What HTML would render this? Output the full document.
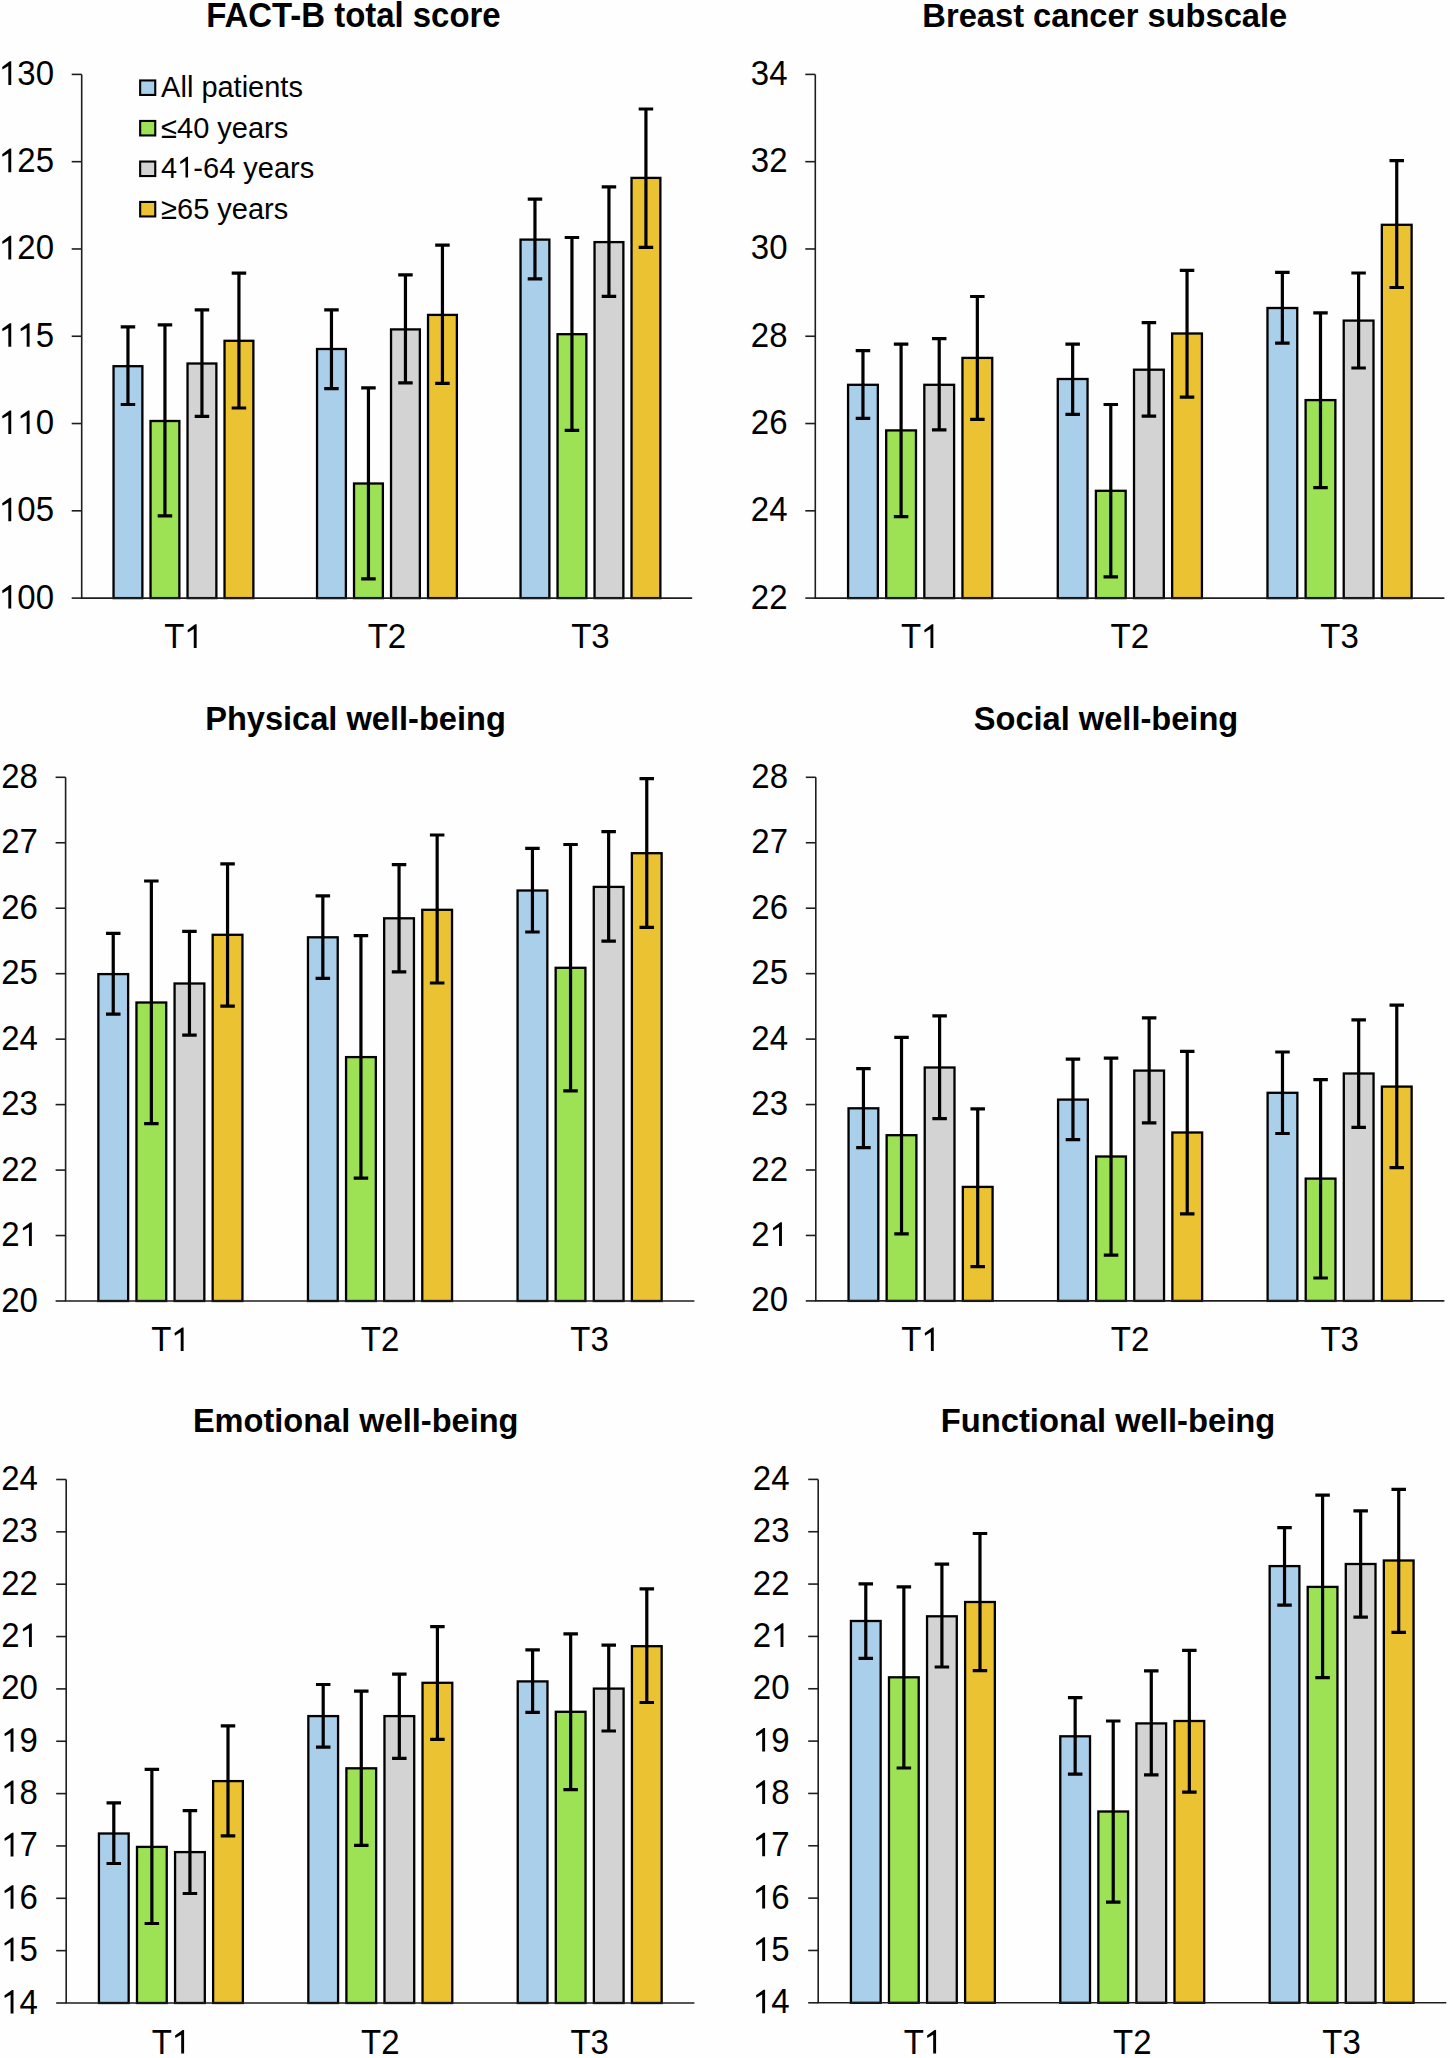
<!DOCTYPE html>
<html><head><meta charset="utf-8"><style>
html,body{margin:0;padding:0;background:#fefefe;}
body{width:1450px;height:2058px;overflow:hidden;}
svg{display:block;}
text{font-family:"Liberation Sans",sans-serif;fill:#000;}
.n{font-size:33px;}
.t{font-size:32.8px;font-weight:bold;}
.l{font-size:29px;}
line{stroke:#1e1e1e;stroke-width:1.6;}
.a{fill:none;stroke:#1e1e1e;stroke-width:1.6;}
.b{stroke:#000;stroke-width:2.3;}
.e{fill:none;stroke:#000;stroke-width:3.2;}
</style></head><body>
<svg width="1450" height="2058" viewBox="0 0 1450 2058">
<rect width="1450" height="2058" fill="#fefefe"/>
<text class="t" style="font-size:32.93px" transform="translate(353.4 27) scale(1 1.04)" text-anchor="middle">FACT-B total score</text>
<line x1="71.7" y1="598.1" x2="81.7" y2="598.1"/>
<text class="n" transform="translate(-1.06 608.6) scale(1 1.04)"> 00</text><path d="M11.24 608.6 11.24 584.98 9.77 584.98 2.16 590.6 2.52 593.13 8.33 589.75 8.33 608.6Z"/>
<line x1="71.7" y1="510.82" x2="81.7" y2="510.82"/>
<text class="n" transform="translate(-1.06 521.32) scale(1 1.04)"> 05</text><path d="M11.24 521.32 11.24 497.69 9.77 497.69 2.16 503.32 2.52 505.85 8.33 502.46 8.33 521.32Z"/>
<line x1="71.7" y1="423.53" x2="81.7" y2="423.53"/>
<text class="n" transform="translate(-1.06 434.03) scale(1 1.04)">  0</text><path d="M11.24 434.03 11.24 410.41 9.77 410.41 2.16 416.03 2.52 418.56 8.33 415.18 8.33 434.03Z"/><path d="M29.59 434.03 29.59 410.41 28.12 410.41 20.52 416.03 20.87 418.56 26.69 415.18 26.69 434.03Z"/>
<line x1="71.7" y1="336.25" x2="81.7" y2="336.25"/>
<text class="n" transform="translate(-1.06 346.75) scale(1 1.04)">  5</text><path d="M11.24 346.75 11.24 323.13 9.77 323.13 2.16 328.75 2.52 331.28 8.33 327.9 8.33 346.75Z"/><path d="M29.59 346.75 29.59 323.13 28.12 323.13 20.52 328.75 20.87 331.28 26.69 327.9 26.69 346.75Z"/>
<line x1="71.7" y1="248.97" x2="81.7" y2="248.97"/>
<text class="n" transform="translate(-1.06 259.47) scale(1 1.04)"> 20</text><path d="M11.24 259.47 11.24 235.84 9.77 235.84 2.16 241.47 2.52 244 8.33 240.61 8.33 259.47Z"/>
<line x1="71.7" y1="161.68" x2="81.7" y2="161.68"/>
<text class="n" transform="translate(-1.06 172.18) scale(1 1.04)"> 25</text><path d="M11.24 172.18 11.24 148.56 9.77 148.56 2.16 154.18 2.52 156.71 8.33 153.33 8.33 172.18Z"/>
<line x1="71.7" y1="74.4" x2="81.7" y2="74.4"/>
<text class="n" transform="translate(-1.06 84.9) scale(1 1.04)"> 30</text><path d="M11.24 84.9 11.24 61.28 9.77 61.28 2.16 66.9 2.52 69.43 8.33 66.05 8.33 84.9Z"/>
<rect x="113.54" y="366.2" width="28.84" height="231.9" fill="#AACFEB" class="b"/>
<rect x="150.53" y="421" width="28.84" height="177.1" fill="#9CE254" class="b"/>
<rect x="187.53" y="363.5" width="28.84" height="234.6" fill="#D3D3D3" class="b"/>
<rect x="224.53" y="340.8" width="28.84" height="257.3" fill="#EBC232" class="b"/>
<path class="e" d="M127.96 326.9V404.5M120.71 326.9H135.21M120.71 404.5H135.21"/>
<path class="e" d="M164.95 324.8V515.8M157.7 324.8H172.2M157.7 515.8H172.2"/>
<path class="e" d="M201.95 309.9V416.3M194.7 309.9H209.2M194.7 416.3H209.2"/>
<path class="e" d="M238.94 273.1V408M231.69 273.1H246.19M231.69 408H246.19"/>
<text class="n" transform="translate(164.19 647.9) scale(1 1.04)">T </text><path d="M196.65 647.9 196.65 624.28 195.18 624.28 187.57 629.9 187.93 632.43 193.75 629.05 193.75 647.9Z"/>
<rect x="317.04" y="349" width="28.84" height="249.1" fill="#AACFEB" class="b"/>
<rect x="354.03" y="483.5" width="28.84" height="114.6" fill="#9CE254" class="b"/>
<rect x="391.03" y="329.4" width="28.84" height="268.7" fill="#D3D3D3" class="b"/>
<rect x="428.03" y="314.9" width="28.84" height="283.2" fill="#EBC232" class="b"/>
<path class="e" d="M331.46 309.9V388.6M324.21 309.9H338.71M324.21 388.6H338.71"/>
<path class="e" d="M368.45 387.9V578.9M361.2 387.9H375.7M361.2 578.9H375.7"/>
<path class="e" d="M405.45 274.8V382.8M398.2 274.8H412.7M398.2 382.8H412.7"/>
<path class="e" d="M442.44 245.2V383.4M435.19 245.2H449.69M435.19 383.4H449.69"/>
<text class="n" transform="translate(367.69 647.9) scale(1 1.04)">T2</text>
<rect x="520.54" y="239.6" width="28.84" height="358.5" fill="#AACFEB" class="b"/>
<rect x="557.53" y="334.2" width="28.84" height="263.9" fill="#9CE254" class="b"/>
<rect x="594.53" y="242.1" width="28.84" height="356" fill="#D3D3D3" class="b"/>
<rect x="631.53" y="177.9" width="28.84" height="420.2" fill="#EBC232" class="b"/>
<path class="e" d="M534.96 199.2V278.9M527.71 199.2H542.21M527.71 278.9H542.21"/>
<path class="e" d="M571.95 237.5V430.4M564.7 237.5H579.2M564.7 430.4H579.2"/>
<path class="e" d="M608.95 186.8V296.3M601.7 186.8H616.2M601.7 296.3H616.2"/>
<path class="e" d="M645.94 109V247.3M638.69 109H653.19M638.69 247.3H653.19"/>
<text class="n" transform="translate(571.19 647.9) scale(1 1.04)">T3</text>
<path class="a" d="M81.7 74.4V598.1H692.2"/>
<text class="t" style="font-size:32.67px" transform="translate(1104.8 27) scale(1 1.04)" text-anchor="middle">Breast cancer subscale</text>
<line x1="805.3" y1="598.1" x2="815.3" y2="598.1"/>
<text class="n" transform="translate(750.79 608.6) scale(1 1.04)">22</text>
<line x1="805.3" y1="510.82" x2="815.3" y2="510.82"/>
<text class="n" transform="translate(750.79 521.32) scale(1 1.04)">24</text>
<line x1="805.3" y1="423.53" x2="815.3" y2="423.53"/>
<text class="n" transform="translate(750.79 434.03) scale(1 1.04)">26</text>
<line x1="805.3" y1="336.25" x2="815.3" y2="336.25"/>
<text class="n" transform="translate(750.79 346.75) scale(1 1.04)">28</text>
<line x1="805.3" y1="248.97" x2="815.3" y2="248.97"/>
<text class="n" transform="translate(750.79 259.47) scale(1 1.04)">30</text>
<line x1="805.3" y1="161.68" x2="815.3" y2="161.68"/>
<text class="n" transform="translate(750.79 172.18) scale(1 1.04)">32</text>
<line x1="805.3" y1="74.4" x2="815.3" y2="74.4"/>
<text class="n" transform="translate(750.79 84.9) scale(1 1.04)">34</text>
<rect x="848.07" y="384.8" width="29.78" height="213.3" fill="#AACFEB" class="b"/>
<rect x="886.2" y="430.4" width="29.78" height="167.7" fill="#9CE254" class="b"/>
<rect x="924.32" y="384.8" width="29.78" height="213.3" fill="#D3D3D3" class="b"/>
<rect x="962.44" y="357.9" width="29.78" height="240.2" fill="#EBC232" class="b"/>
<path class="e" d="M862.96 350.7V418.4M855.71 350.7H870.21M855.71 418.4H870.21"/>
<path class="e" d="M901.09 344.1V516.6M893.84 344.1H908.34M893.84 516.6H908.34"/>
<path class="e" d="M939.21 338.7V429.9M931.96 338.7H946.46M931.96 429.9H946.46"/>
<path class="e" d="M977.34 296.5V419.4M970.09 296.5H984.59M970.09 419.4H984.59"/>
<text class="n" transform="translate(900.89 647.9) scale(1 1.04)">T </text><path d="M933.35 647.9 933.35 624.28 931.88 624.28 924.27 629.9 924.63 632.43 930.45 629.05 930.45 647.9Z"/>
<rect x="1057.77" y="379" width="29.78" height="219.1" fill="#AACFEB" class="b"/>
<rect x="1095.9" y="490.8" width="29.78" height="107.3" fill="#9CE254" class="b"/>
<rect x="1134.02" y="369.7" width="29.78" height="228.4" fill="#D3D3D3" class="b"/>
<rect x="1172.14" y="333.5" width="29.78" height="264.6" fill="#EBC232" class="b"/>
<path class="e" d="M1072.66 344.1V414.4M1065.41 344.1H1079.91M1065.41 414.4H1079.91"/>
<path class="e" d="M1110.79 404.5V576.8M1103.54 404.5H1118.04M1103.54 576.8H1118.04"/>
<path class="e" d="M1148.91 322.7V416.2M1141.66 322.7H1156.16M1141.66 416.2H1156.16"/>
<path class="e" d="M1187.04 270.4V397.2M1179.79 270.4H1194.29M1179.79 397.2H1194.29"/>
<text class="n" transform="translate(1110.59 647.9) scale(1 1.04)">T2</text>
<rect x="1267.47" y="308" width="29.78" height="290.1" fill="#AACFEB" class="b"/>
<rect x="1305.6" y="400.1" width="29.78" height="198" fill="#9CE254" class="b"/>
<rect x="1343.72" y="320.6" width="29.78" height="277.5" fill="#D3D3D3" class="b"/>
<rect x="1381.84" y="224.8" width="29.78" height="373.3" fill="#EBC232" class="b"/>
<path class="e" d="M1282.36 272.4V343.2M1275.11 272.4H1289.61M1275.11 343.2H1289.61"/>
<path class="e" d="M1320.49 312.8V487.6M1313.24 312.8H1327.74M1313.24 487.6H1327.74"/>
<path class="e" d="M1358.61 273V368M1351.36 273H1365.86M1351.36 368H1365.86"/>
<path class="e" d="M1396.74 160.7V287.5M1389.49 160.7H1403.99M1389.49 287.5H1403.99"/>
<text class="n" transform="translate(1320.29 647.9) scale(1 1.04)">T3</text>
<path class="a" d="M815.3 74.4V598.1H1444.4"/>
<text class="t" style="font-size:32.61px" transform="translate(355.5 729.6) scale(1 1.04)" text-anchor="middle">Physical well-being</text>
<line x1="55.6" y1="1301" x2="65.6" y2="1301"/>
<text class="n" transform="translate(1.19 1311.5) scale(1 1.04)">20</text>
<line x1="55.6" y1="1235.54" x2="65.6" y2="1235.54"/>
<text class="n" transform="translate(1.19 1246.04) scale(1 1.04)">2 </text><path d="M31.84 1246.04 31.84 1222.42 30.38 1222.42 22.77 1228.04 23.12 1230.57 28.94 1227.18 28.94 1246.04Z"/>
<line x1="55.6" y1="1170.08" x2="65.6" y2="1170.08"/>
<text class="n" transform="translate(1.19 1180.58) scale(1 1.04)">22</text>
<line x1="55.6" y1="1104.61" x2="65.6" y2="1104.61"/>
<text class="n" transform="translate(1.19 1115.11) scale(1 1.04)">23</text>
<line x1="55.6" y1="1039.15" x2="65.6" y2="1039.15"/>
<text class="n" transform="translate(1.19 1049.65) scale(1 1.04)">24</text>
<line x1="55.6" y1="973.69" x2="65.6" y2="973.69"/>
<text class="n" transform="translate(1.19 984.19) scale(1 1.04)">25</text>
<line x1="55.6" y1="908.22" x2="65.6" y2="908.22"/>
<text class="n" transform="translate(1.19 918.72) scale(1 1.04)">26</text>
<line x1="55.6" y1="842.76" x2="65.6" y2="842.76"/>
<text class="n" transform="translate(1.19 853.26) scale(1 1.04)">27</text>
<line x1="55.6" y1="777.3" x2="65.6" y2="777.3"/>
<text class="n" transform="translate(1.19 787.8) scale(1 1.04)">28</text>
<rect x="98.36" y="974.1" width="29.77" height="326.9" fill="#AACFEB" class="b"/>
<rect x="136.46" y="1002.5" width="29.77" height="298.5" fill="#9CE254" class="b"/>
<rect x="174.57" y="983.5" width="29.77" height="317.5" fill="#D3D3D3" class="b"/>
<rect x="212.67" y="934.8" width="29.77" height="366.2" fill="#EBC232" class="b"/>
<path class="e" d="M113.24 933.4V1014.1M105.99 933.4H120.49M105.99 1014.1H120.49"/>
<path class="e" d="M151.35 881V1123.7M144.1 881H158.6M144.1 1123.7H158.6"/>
<path class="e" d="M189.45 931.3V1035.2M182.2 931.3H196.7M182.2 1035.2H196.7"/>
<path class="e" d="M227.56 863.9V1006.2M220.31 863.9H234.81M220.31 1006.2H234.81"/>
<text class="n" transform="translate(151.14 1351.1) scale(1 1.04)">T </text><path d="M183.6 1351.1 183.6 1327.48 182.13 1327.48 174.52 1333.1 174.88 1335.63 180.7 1332.25 180.7 1351.1Z"/>
<rect x="307.96" y="937.3" width="29.77" height="363.7" fill="#AACFEB" class="b"/>
<rect x="346.06" y="1057.1" width="29.77" height="243.9" fill="#9CE254" class="b"/>
<rect x="384.17" y="918.3" width="29.77" height="382.7" fill="#D3D3D3" class="b"/>
<rect x="422.27" y="909.8" width="29.77" height="391.2" fill="#EBC232" class="b"/>
<path class="e" d="M322.84 895.9V978.3M315.59 895.9H330.09M315.59 978.3H330.09"/>
<path class="e" d="M360.95 935.6V1178.2M353.7 935.6H368.2M353.7 1178.2H368.2"/>
<path class="e" d="M399.05 864.7V971.9M391.8 864.7H406.3M391.8 971.9H406.3"/>
<path class="e" d="M437.16 835V983M429.91 835H444.41M429.91 983H444.41"/>
<text class="n" transform="translate(360.74 1351.1) scale(1 1.04)">T2</text>
<rect x="517.56" y="890.5" width="29.77" height="410.5" fill="#AACFEB" class="b"/>
<rect x="555.66" y="967.8" width="29.77" height="333.2" fill="#9CE254" class="b"/>
<rect x="593.77" y="886.9" width="29.77" height="414.1" fill="#D3D3D3" class="b"/>
<rect x="631.87" y="853.2" width="29.77" height="447.8" fill="#EBC232" class="b"/>
<path class="e" d="M532.44 848.3V932M525.19 848.3H539.69M525.19 932H539.69"/>
<path class="e" d="M570.55 844.5V1090.9M563.3 844.5H577.8M563.3 1090.9H577.8"/>
<path class="e" d="M608.65 831.7V941.2M601.4 831.7H615.9M601.4 941.2H615.9"/>
<path class="e" d="M646.76 778.6V927.4M639.51 778.6H654.01M639.51 927.4H654.01"/>
<text class="n" transform="translate(570.34 1351.1) scale(1 1.04)">T3</text>
<path class="a" d="M65.6 777.3V1301H694.4"/>
<text class="t" style="font-size:32.63px" transform="translate(1106 729.6) scale(1 1.04)" text-anchor="middle">Social well-being</text>
<line x1="805.8" y1="1300.9" x2="815.8" y2="1300.9"/>
<text class="n" transform="translate(751.29 1311.4) scale(1 1.04)">20</text>
<line x1="805.8" y1="1235.45" x2="815.8" y2="1235.45"/>
<text class="n" transform="translate(751.29 1245.95) scale(1 1.04)">2 </text><path d="M781.94 1245.95 781.94 1222.33 780.48 1222.33 772.87 1227.95 773.22 1230.48 779.04 1227.1 779.04 1245.95Z"/>
<line x1="805.8" y1="1170" x2="815.8" y2="1170"/>
<text class="n" transform="translate(751.29 1180.5) scale(1 1.04)">22</text>
<line x1="805.8" y1="1104.55" x2="815.8" y2="1104.55"/>
<text class="n" transform="translate(751.29 1115.05) scale(1 1.04)">23</text>
<line x1="805.8" y1="1039.1" x2="815.8" y2="1039.1"/>
<text class="n" transform="translate(751.29 1049.6) scale(1 1.04)">24</text>
<line x1="805.8" y1="973.65" x2="815.8" y2="973.65"/>
<text class="n" transform="translate(751.29 984.15) scale(1 1.04)">25</text>
<line x1="805.8" y1="908.2" x2="815.8" y2="908.2"/>
<text class="n" transform="translate(751.29 918.7) scale(1 1.04)">26</text>
<line x1="805.8" y1="842.75" x2="815.8" y2="842.75"/>
<text class="n" transform="translate(751.29 853.25) scale(1 1.04)">27</text>
<line x1="805.8" y1="777.3" x2="815.8" y2="777.3"/>
<text class="n" transform="translate(751.29 787.8) scale(1 1.04)">28</text>
<rect x="848.55" y="1108.3" width="29.76" height="192.6" fill="#AACFEB" class="b"/>
<rect x="886.64" y="1135.2" width="29.76" height="165.7" fill="#9CE254" class="b"/>
<rect x="924.73" y="1067.5" width="29.76" height="233.4" fill="#D3D3D3" class="b"/>
<rect x="962.83" y="1186.9" width="29.76" height="114" fill="#EBC232" class="b"/>
<path class="e" d="M863.43 1068.6V1147.6M856.18 1068.6H870.68M856.18 1147.6H870.68"/>
<path class="e" d="M901.52 1037.3V1233.9M894.27 1037.3H908.77M894.27 1233.9H908.77"/>
<path class="e" d="M939.61 1015.8V1118.6M932.36 1015.8H946.86M932.36 1118.6H946.86"/>
<path class="e" d="M977.71 1108.9V1266.6M970.46 1108.9H984.96M970.46 1266.6H984.96"/>
<text class="n" transform="translate(901.31 1351.1) scale(1 1.04)">T </text><path d="M933.76 1351.1 933.76 1327.48 932.3 1327.48 924.69 1333.1 925.05 1335.63 930.86 1332.25 930.86 1351.1Z"/>
<rect x="1058.08" y="1099.6" width="29.76" height="201.3" fill="#AACFEB" class="b"/>
<rect x="1096.17" y="1156.5" width="29.76" height="144.4" fill="#9CE254" class="b"/>
<rect x="1134.27" y="1070.6" width="29.76" height="230.3" fill="#D3D3D3" class="b"/>
<rect x="1172.36" y="1132.5" width="29.76" height="168.4" fill="#EBC232" class="b"/>
<path class="e" d="M1072.96 1059.2V1139.7M1065.71 1059.2H1080.21M1065.71 1139.7H1080.21"/>
<path class="e" d="M1111.05 1058.2V1255.2M1103.8 1058.2H1118.3M1103.8 1255.2H1118.3"/>
<path class="e" d="M1149.15 1017.9V1122.8M1141.9 1017.9H1156.4M1141.9 1122.8H1156.4"/>
<path class="e" d="M1187.24 1051.4V1213.8M1179.99 1051.4H1194.49M1179.99 1213.8H1194.49"/>
<text class="n" transform="translate(1110.84 1351.1) scale(1 1.04)">T2</text>
<rect x="1267.61" y="1092.8" width="29.76" height="208.1" fill="#AACFEB" class="b"/>
<rect x="1305.71" y="1178.6" width="29.76" height="122.3" fill="#9CE254" class="b"/>
<rect x="1343.8" y="1073.5" width="29.76" height="227.4" fill="#D3D3D3" class="b"/>
<rect x="1381.89" y="1086.6" width="29.76" height="214.3" fill="#EBC232" class="b"/>
<path class="e" d="M1282.49 1052V1133.5M1275.24 1052H1289.74M1275.24 1133.5H1289.74"/>
<path class="e" d="M1320.59 1079.7V1278M1313.34 1079.7H1327.84M1313.34 1278H1327.84"/>
<path class="e" d="M1358.68 1019.9V1127.3M1351.43 1019.9H1365.93M1351.43 1127.3H1365.93"/>
<path class="e" d="M1396.77 1005.2V1167.7M1389.52 1005.2H1404.02M1389.52 1167.7H1404.02"/>
<text class="n" transform="translate(1320.38 1351.1) scale(1 1.04)">T3</text>
<path class="a" d="M815.8 777.3V1300.9H1444.4"/>
<text class="t" style="font-size:32.57px" transform="translate(355.7 1432.4) scale(1 1.04)" text-anchor="middle">Emotional well-being</text>
<line x1="56.2" y1="2003" x2="66.2" y2="2003"/>
<text class="n" transform="translate(1.19 2013.5) scale(1 1.04)"> 4</text><path d="M13.49 2013.5 13.49 1989.88 12.02 1989.88 4.42 1995.5 4.77 1998.03 10.59 1994.65 10.59 2013.5Z"/>
<line x1="56.2" y1="1950.65" x2="66.2" y2="1950.65"/>
<text class="n" transform="translate(1.19 1961.15) scale(1 1.04)"> 5</text><path d="M13.49 1961.15 13.49 1937.53 12.02 1937.53 4.42 1943.15 4.77 1945.68 10.59 1942.3 10.59 1961.15Z"/>
<line x1="56.2" y1="1898.3" x2="66.2" y2="1898.3"/>
<text class="n" transform="translate(1.19 1908.8) scale(1 1.04)"> 6</text><path d="M13.49 1908.8 13.49 1885.18 12.02 1885.18 4.42 1890.8 4.77 1893.33 10.59 1889.95 10.59 1908.8Z"/>
<line x1="56.2" y1="1845.95" x2="66.2" y2="1845.95"/>
<text class="n" transform="translate(1.19 1856.45) scale(1 1.04)"> 7</text><path d="M13.49 1856.45 13.49 1832.83 12.02 1832.83 4.42 1838.45 4.77 1840.98 10.59 1837.6 10.59 1856.45Z"/>
<line x1="56.2" y1="1793.6" x2="66.2" y2="1793.6"/>
<text class="n" transform="translate(1.19 1804.1) scale(1 1.04)"> 8</text><path d="M13.49 1804.1 13.49 1780.48 12.02 1780.48 4.42 1786.1 4.77 1788.63 10.59 1785.25 10.59 1804.1Z"/>
<line x1="56.2" y1="1741.25" x2="66.2" y2="1741.25"/>
<text class="n" transform="translate(1.19 1751.75) scale(1 1.04)"> 9</text><path d="M13.49 1751.75 13.49 1728.13 12.02 1728.13 4.42 1733.75 4.77 1736.28 10.59 1732.9 10.59 1751.75Z"/>
<line x1="56.2" y1="1688.9" x2="66.2" y2="1688.9"/>
<text class="n" transform="translate(1.19 1699.4) scale(1 1.04)">20</text>
<line x1="56.2" y1="1636.55" x2="66.2" y2="1636.55"/>
<text class="n" transform="translate(1.19 1647.05) scale(1 1.04)">2 </text><path d="M31.84 1647.05 31.84 1623.43 30.38 1623.43 22.77 1629.05 23.12 1631.58 28.94 1628.2 28.94 1647.05Z"/>
<line x1="56.2" y1="1584.2" x2="66.2" y2="1584.2"/>
<text class="n" transform="translate(1.19 1594.7) scale(1 1.04)">22</text>
<line x1="56.2" y1="1531.85" x2="66.2" y2="1531.85"/>
<text class="n" transform="translate(1.19 1542.35) scale(1 1.04)">23</text>
<line x1="56.2" y1="1479.5" x2="66.2" y2="1479.5"/>
<text class="n" transform="translate(1.19 1490) scale(1 1.04)">24</text>
<rect x="98.93" y="1833.5" width="29.74" height="169.5" fill="#AACFEB" class="b"/>
<rect x="137" y="1846.9" width="29.74" height="156.1" fill="#9CE254" class="b"/>
<rect x="175.07" y="1852.1" width="29.74" height="150.9" fill="#D3D3D3" class="b"/>
<rect x="213.13" y="1781.1" width="29.74" height="221.9" fill="#EBC232" class="b"/>
<path class="e" d="M113.8 1802.8V1863.5M106.55 1802.8H121.05M106.55 1863.5H121.05"/>
<path class="e" d="M151.87 1769.3V1923.5M144.62 1769.3H159.12M144.62 1923.5H159.12"/>
<path class="e" d="M189.93 1810.7V1893.5M182.68 1810.7H197.18M182.68 1893.5H197.18"/>
<path class="e" d="M228 1725.9V1835.9M220.75 1725.9H235.25M220.75 1835.9H235.25"/>
<text class="n" transform="translate(151.64 2053.5) scale(1 1.04)">T </text><path d="M184.1 2053.5 184.1 2029.88 182.63 2029.88 175.02 2035.5 175.38 2038.03 181.2 2034.65 181.2 2053.5Z"/>
<rect x="308.33" y="1716.1" width="29.74" height="286.9" fill="#AACFEB" class="b"/>
<rect x="346.4" y="1768.3" width="29.74" height="234.7" fill="#9CE254" class="b"/>
<rect x="384.47" y="1716.1" width="29.74" height="286.9" fill="#D3D3D3" class="b"/>
<rect x="422.53" y="1682.8" width="29.74" height="320.2" fill="#EBC232" class="b"/>
<path class="e" d="M323.2 1684.5V1747.2M315.95 1684.5H330.45M315.95 1747.2H330.45"/>
<path class="e" d="M361.27 1691.1V1845.3M354.02 1691.1H368.52M354.02 1845.3H368.52"/>
<path class="e" d="M399.33 1674.1V1758.4M392.08 1674.1H406.58M392.08 1758.4H406.58"/>
<path class="e" d="M437.4 1626.6V1739.3M430.15 1626.6H444.65M430.15 1739.3H444.65"/>
<text class="n" transform="translate(361.04 2053.5) scale(1 1.04)">T2</text>
<rect x="517.73" y="1681.4" width="29.74" height="321.6" fill="#AACFEB" class="b"/>
<rect x="555.8" y="1711.8" width="29.74" height="291.2" fill="#9CE254" class="b"/>
<rect x="593.87" y="1688.6" width="29.74" height="314.4" fill="#D3D3D3" class="b"/>
<rect x="631.93" y="1646.2" width="29.74" height="356.8" fill="#EBC232" class="b"/>
<path class="e" d="M532.6 1649.9V1712.4M525.35 1649.9H539.85M525.35 1712.4H539.85"/>
<path class="e" d="M570.67 1633.8V1789.6M563.42 1633.8H577.92M563.42 1789.6H577.92"/>
<path class="e" d="M608.73 1645.2V1731M601.48 1645.2H615.98M601.48 1731H615.98"/>
<path class="e" d="M646.8 1588.9V1702.5M639.55 1588.9H654.05M639.55 1702.5H654.05"/>
<text class="n" transform="translate(570.44 2053.5) scale(1 1.04)">T3</text>
<path class="a" d="M66.2 1479.5V2003H694.4"/>
<text class="t" style="font-size:32.74px" transform="translate(1108 1432.4) scale(1 1.04)" text-anchor="middle">Functional well-being</text>
<line x1="808.2" y1="2002.8" x2="818.2" y2="2002.8"/>
<text class="n" transform="translate(752.79 2013.3) scale(1 1.04)"> 4</text><path d="M765.09 2013.3 765.09 1989.68 763.62 1989.68 756.02 1995.3 756.37 1997.83 762.19 1994.45 762.19 2013.3Z"/>
<line x1="808.2" y1="1950.46" x2="818.2" y2="1950.46"/>
<text class="n" transform="translate(752.79 1960.96) scale(1 1.04)"> 5</text><path d="M765.09 1960.96 765.09 1937.34 763.62 1937.34 756.02 1942.96 756.37 1945.49 762.19 1942.11 762.19 1960.96Z"/>
<line x1="808.2" y1="1898.12" x2="818.2" y2="1898.12"/>
<text class="n" transform="translate(752.79 1908.62) scale(1 1.04)"> 6</text><path d="M765.09 1908.62 765.09 1885 763.62 1885 756.02 1890.62 756.37 1893.15 762.19 1889.77 762.19 1908.62Z"/>
<line x1="808.2" y1="1845.78" x2="818.2" y2="1845.78"/>
<text class="n" transform="translate(752.79 1856.28) scale(1 1.04)"> 7</text><path d="M765.09 1856.28 765.09 1832.66 763.62 1832.66 756.02 1838.28 756.37 1840.81 762.19 1837.43 762.19 1856.28Z"/>
<line x1="808.2" y1="1793.44" x2="818.2" y2="1793.44"/>
<text class="n" transform="translate(752.79 1803.94) scale(1 1.04)"> 8</text><path d="M765.09 1803.94 765.09 1780.32 763.62 1780.32 756.02 1785.94 756.37 1788.47 762.19 1785.09 762.19 1803.94Z"/>
<line x1="808.2" y1="1741.1" x2="818.2" y2="1741.1"/>
<text class="n" transform="translate(752.79 1751.6) scale(1 1.04)"> 9</text><path d="M765.09 1751.6 765.09 1727.98 763.62 1727.98 756.02 1733.6 756.37 1736.13 762.19 1732.75 762.19 1751.6Z"/>
<line x1="808.2" y1="1688.76" x2="818.2" y2="1688.76"/>
<text class="n" transform="translate(752.79 1699.26) scale(1 1.04)">20</text>
<line x1="808.2" y1="1636.42" x2="818.2" y2="1636.42"/>
<text class="n" transform="translate(752.79 1646.92) scale(1 1.04)">2 </text><path d="M783.44 1646.92 783.44 1623.3 781.98 1623.3 774.37 1628.92 774.72 1631.45 780.54 1628.07 780.54 1646.92Z"/>
<line x1="808.2" y1="1584.08" x2="818.2" y2="1584.08"/>
<text class="n" transform="translate(752.79 1594.58) scale(1 1.04)">22</text>
<line x1="808.2" y1="1531.74" x2="818.2" y2="1531.74"/>
<text class="n" transform="translate(752.79 1542.24) scale(1 1.04)">23</text>
<line x1="808.2" y1="1479.4" x2="818.2" y2="1479.4"/>
<text class="n" transform="translate(752.79 1489.9) scale(1 1.04)">24</text>
<rect x="850.92" y="1621" width="29.73" height="381.8" fill="#AACFEB" class="b"/>
<rect x="888.99" y="1677.3" width="29.73" height="325.5" fill="#9CE254" class="b"/>
<rect x="927.05" y="1616.3" width="29.73" height="386.5" fill="#D3D3D3" class="b"/>
<rect x="965.11" y="1602" width="29.73" height="400.8" fill="#EBC232" class="b"/>
<path class="e" d="M865.79 1583.8V1658.3M858.54 1583.8H873.04M858.54 1658.3H873.04"/>
<path class="e" d="M903.85 1586.9V1768M896.6 1586.9H911.1M896.6 1768H911.1"/>
<path class="e" d="M941.91 1564.1V1667M934.66 1564.1H949.16M934.66 1667H949.16"/>
<path class="e" d="M979.98 1533.5V1670.7M972.73 1533.5H987.23M972.73 1670.7H987.23"/>
<text class="n" transform="translate(903.63 2053.5) scale(1 1.04)">T </text><path d="M936.08 2053.5 936.08 2029.88 934.61 2029.88 927.01 2035.5 927.36 2038.03 933.18 2034.65 933.18 2053.5Z"/>
<rect x="1060.29" y="1736.3" width="29.73" height="266.5" fill="#AACFEB" class="b"/>
<rect x="1098.35" y="1811.5" width="29.73" height="191.3" fill="#9CE254" class="b"/>
<rect x="1136.41" y="1723.4" width="29.73" height="279.4" fill="#D3D3D3" class="b"/>
<rect x="1174.48" y="1721" width="29.73" height="281.8" fill="#EBC232" class="b"/>
<path class="e" d="M1075.16 1697.6V1774.2M1067.91 1697.6H1082.41M1067.91 1774.2H1082.41"/>
<path class="e" d="M1113.22 1721V1902.1M1105.97 1721H1120.47M1105.97 1902.1H1120.47"/>
<path class="e" d="M1151.28 1670.8V1774.9M1144.03 1670.8H1158.53M1144.03 1774.9H1158.53"/>
<path class="e" d="M1189.34 1650.3V1792.2M1182.09 1650.3H1196.59M1182.09 1792.2H1196.59"/>
<text class="n" transform="translate(1112.99 2053.5) scale(1 1.04)">T2</text>
<rect x="1269.66" y="1566.1" width="29.73" height="436.7" fill="#AACFEB" class="b"/>
<rect x="1307.72" y="1586.9" width="29.73" height="415.9" fill="#9CE254" class="b"/>
<rect x="1345.78" y="1564" width="29.73" height="438.8" fill="#D3D3D3" class="b"/>
<rect x="1383.84" y="1560.5" width="29.73" height="442.3" fill="#EBC232" class="b"/>
<path class="e" d="M1284.52 1527.7V1605.2M1277.27 1527.7H1291.77M1277.27 1605.2H1291.77"/>
<path class="e" d="M1322.59 1495.2V1677.6M1315.34 1495.2H1329.84M1315.34 1677.6H1329.84"/>
<path class="e" d="M1360.65 1510.8V1617.1M1353.4 1510.8H1367.9M1353.4 1617.1H1367.9"/>
<path class="e" d="M1398.71 1489.3V1632.4M1391.46 1489.3H1405.96M1391.46 1632.4H1405.96"/>
<text class="n" transform="translate(1322.36 2053.5) scale(1 1.04)">T3</text>
<path class="a" d="M818.2 1479.4V2002.8H1446.3"/>
<rect x="140.15" y="80.45" width="15.1" height="14.5" fill="#AACFEB" style="stroke:#000;stroke-width:2.1"/>
<text class="l" transform="translate(161.1 96.5) scale(1 1.04)">All patients</text>
<rect x="140.15" y="120.95" width="15.1" height="14.5" fill="#9CE254" style="stroke:#000;stroke-width:2.1"/>
<text class="l" transform="translate(161.1 138.1) scale(1 1.04)">≤40 years</text>
<rect x="140.15" y="161.55" width="15.1" height="14.5" fill="#D3D3D3" style="stroke:#000;stroke-width:2.1"/>
<text class="l" transform="translate(161.1 177.5) scale(1 1.04)">4 -64 years</text><path d="M188.03 177.5 188.03 156.74 186.74 156.74 180.06 161.68 180.37 163.91 185.48 160.93 185.48 177.5Z"/>
<rect x="140.15" y="201.95" width="15.1" height="14.5" fill="#EBC232" style="stroke:#000;stroke-width:2.1"/>
<text class="l" transform="translate(161.1 219) scale(1 1.04)">≥65 years</text>
</svg>
</body></html>
